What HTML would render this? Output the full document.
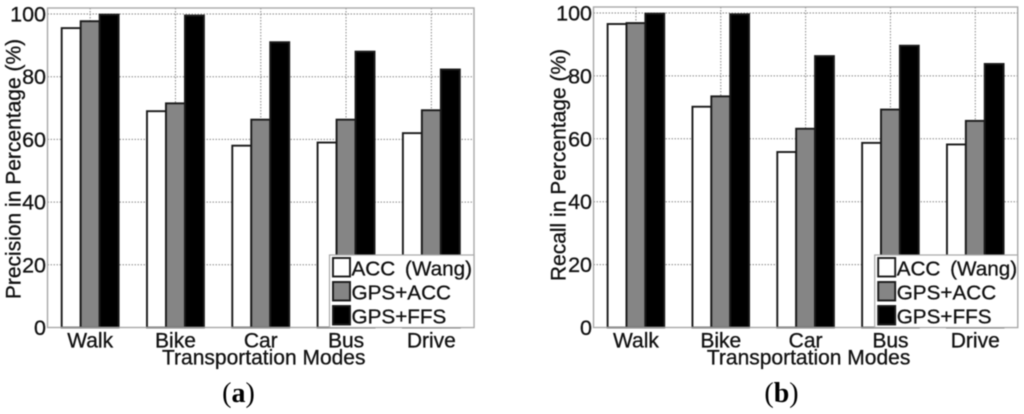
<!DOCTYPE html>
<html>
<head>
<meta charset="utf-8">
<style>
html,body{margin:0;padding:0;background:#fff;width:1024px;height:414px;overflow:hidden}
svg{display:block;filter:blur(0.55px)}
text{font-family:"Liberation Sans",sans-serif;fill:#111;stroke:#111;stroke-width:0.3px}
</style>
</head>
<body>
<svg id="figure" width="1024" height="414" viewBox="0 0 1024 414" xmlns="http://www.w3.org/2000/svg"></svg>
<script>
const categories = ['Walk', 'Bike', 'Car', 'Bus', 'Drive'];
const seriesNames = ['ACC (Wang)', 'GPS+ACC', 'GPS+FFS'];
const yTicks = [0, 20, 40, 60, 80, 100];
const precisionAcc = [95.5, 69, 58, 59, 62];
const precisionGpsAcc = [97.7, 71.5, 66.3, 66.3, 69.3];
const precisionGpsFfs = [99.8, 99.5, 91, 88, 82.3];
const recallAcc = [96.5, 70.2, 55.8, 58.7, 58.2];
const recallGpsAcc = [96.8, 73.5, 63.2, 69.3, 65.7];
const recallGpsFfs = [99.8, 99.6, 86.3, 89.6, 83.8];

const fills = ['#ffffff', '#858585', '#000000'];
const NS = 'http://www.w3.org/2000/svg';
const root = document.getElementById('figure');

function make(parent, tag, attrs, txt) {
  const el = document.createElementNS(NS, tag);
  for (const k in attrs) el.setAttribute(k, attrs[k]);
  if (txt !== undefined) el.textContent = txt;
  parent.appendChild(el);
  return el;
}

function drawChart(cfg) {
  const g = make(root, 'g', {});
  
  
  const x = i => cfg.left + (i + 0.5) * (cfg.right - cfg.left) / categories.length;
  const y = v => cfg.y0 + (cfg.y100 - cfg.y0) * v / 100;
  const barW = 0.2225 * (cfg.right - cfg.left) / categories.length;

  make(g, 'rect', {x: cfg.left, y: cfg.top, width: cfg.right - cfg.left, height: cfg.y0 - cfg.top, fill: '#fff', stroke: 'none'});

  yTicks.forEach(t => {
    if (t > 0) {
      const line = make(g, 'line', {x1: cfg.left, x2: cfg.right, y1: y(t), y2: y(t), stroke: '#8a8a8a', 'stroke-width': 1, 'stroke-dasharray': '1.5 1.5'});
      
      
    }
    const label = make(g, 'text', {x: cfg.left - 1.5, y: y(t) + 7.5, 'text-anchor': 'end', 'font-size': 21.5}, String(t));
    
    
  });

  categories.forEach((c, i) => {
    const line = make(g, 'line', {x1: x(i), x2: x(i), y1: cfg.top, y2: cfg.y0, stroke: '#8a8a8a', 'stroke-width': 1, 'stroke-dasharray': '1.5 1.5'});
    
    
  });

  cfg.series.forEach((vals, s) => {
    vals.forEach((v, i) => {
      const bar = make(g, 'rect', {
        x: x(i) + (s - 1.5) * barW,
        y: y(v),
        width: barW,
        height: cfg.y0 - y(v),
        fill: fills[s],
        stroke: '#1a1a1a',
        'stroke-width': 1.9
      });
      
      
    });
  });

  const frame = make(g, 'rect', {x: cfg.left, y: cfg.top, width: cfg.right - cfg.left, height: cfg.y0 - cfg.top, fill: 'none', stroke: '#a8a8a8', 'stroke-width': 1.4});
  
  

  categories.forEach((c, i) => {
    const label = make(g, 'text', {x: x(i), y: 347.5, 'text-anchor': 'middle', 'font-size': 21}, c);
    
    
  });

  const xTitle = make(g, 'text', {x: (cfg.left + cfg.right) / 2 + 3, y: 364.5, 'text-anchor': 'middle', 'font-size': 21}, 'Transportation Modes');
  
  

  const yTitle = make(g, 'text', {x: 0, y: 0, 'text-anchor': 'middle', 'font-size': 21, transform: 'translate(' + cfg.yTitleX + ',' + cfg.yTitleY + ') rotate(-90)'}, cfg.yTitle);
  
  

  const legend = make(g, 'g', {});
  
  
  make(legend, 'rect', {x: cfg.legendX, y: 255, width: cfg.right - cfg.legendX, height: cfg.y0 - 255, fill: '#fff', stroke: '#a8a8a8', 'stroke-width': 1.2});
  seriesNames.forEach((n, s) => {
    const rowY = 258 + s * 24;
    const swatch = make(legend, 'rect', {x: cfg.legendX + 3.5, y: rowY, width: 17, height: 18.5, fill: fills[s], stroke: '#1a1a1a', 'stroke-width': 1.9});
    
    
    const label = make(legend, 'text', {x: cfg.legendX + 22, y: rowY + 17.5, 'font-size': 20.7, 'word-spacing': 4}, n);
    
    
  });

  const cap = make(g, 'text', {x: cfg.capX, y: 402, 'text-anchor': 'middle', 'font-size': 28, style: 'font-family:"Liberation Serif",serif;fill:#000;stroke:none'});
  
  
  make(cap, 'tspan', {}, '(');
  make(cap, 'tspan', {'font-weight': 'bold'}, cfg.cap);
  make(cap, 'tspan', {}, ')');
}

drawChart({
  name: 'precision-chart', left: 47.5, right: 474, top: 8, y0: 327.5, y100: 14,
  series: [precisionAcc, precisionGpsAcc, precisionGpsFfs],
  yTitle: 'Precision in Percentage (%)', yTitleX: 20.5, yTitleY: 169,
  legendX: 329.5, cap: 'a', capX: 238.5
});
drawChart({
  name: 'recall-chart', left: 593.5, right: 1017.7, top: 7, y0: 327.5, y100: 13,
  series: [recallAcc, recallGpsAcc, recallGpsFfs],
  yTitle: 'Recall in Percentage (%)', yTitleX: 565.5, yTitleY: 165,
  legendX: 874.7, cap: 'b', capX: 781.5
});
</script>
</body>
</html>
